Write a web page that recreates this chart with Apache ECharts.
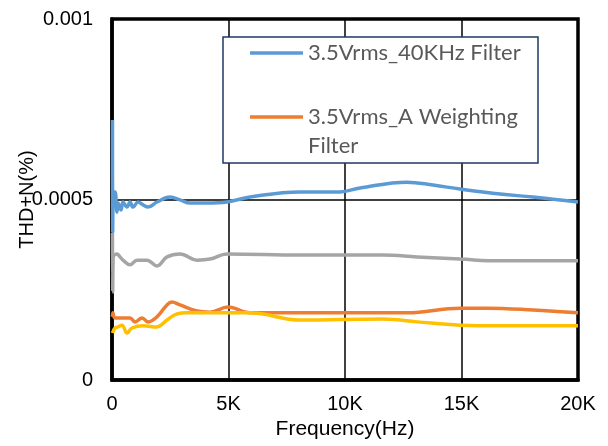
<!DOCTYPE html>
<html>
<head>
<meta charset="utf-8">
<script src="https://cdn.jsdelivr.net/npm/echarts@6/dist/echarts.min.js"></script>
<style>
html,body{margin:0;padding:0;background:#fff;}
#chart{width:608px;height:446px;}
</style>
</head>
<body>
<div id="chart"></div>
<script>
// ---- data ----
const xTickLabels = ['0', '5K', '10K', '15K', '20K'];
const yTickLabels = ['0', '0.0005', '0.001'];

const blueName = '3.5Vrms_40KHz Filter';
const blueFreq = [20, 30, 60, 130, 215, 258, 386, 472, 644, 773, 901, 1116, 1330, 1545, 1931, 2489, 2918, 3348, 4077, 4936, 5923, 8069, 9785, 10644, 12661, 13777, 14936, 16652, 18069, 20000];
const blueVals = [0.00072, 0.00041, 0.00052, 0.000521, 0.000465, 0.00049, 0.000471, 0.000493, 0.000479, 0.000493, 0.000479, 0.000493, 0.000485, 0.000479, 0.000493, 0.000507, 0.000499, 0.00049, 0.00049, 0.000493, 0.000507, 0.000521, 0.000521, 0.000532, 0.000548, 0.00054, 0.000529, 0.000515, 0.000507, 0.000493];

const orangeName = '3.5Vrms_A Weighting Filter';
const orangeFreq = [20, 40, 130, 773, 987, 1288, 1545, 1931, 2361, 2575, 2918, 3648, 4206, 4979, 5923, 9485, 12661, 14936, 16094, 18069, 20000];
const orangeVals = [0.000175, 0.000186, 0.000172, 0.000172, 0.000161, 0.000172, 0.000161, 0.000175, 0.000208, 0.000216, 0.000208, 0.000191, 0.000188, 0.000202, 0.000186, 0.000186, 0.000186, 0.000199, 0.000199, 0.000194, 0.000186];

const grayName = '3.5Vrms_Series3';
const grayFreq = [20, 30, 50, 215, 343, 472, 773, 1073, 1502, 1931, 2361, 2918, 3648, 4206, 4936, 8069, 11631, 13090, 14936, 16652, 20000];
const grayVals = [0.000407, 0.000244, 0.00034, 0.000349, 0.000341, 0.000332, 0.000319, 0.000332, 0.000332, 0.000316, 0.000341, 0.000349, 0.000332, 0.000335, 0.000349, 0.000346, 0.000346, 0.000341, 0.000335, 0.00033, 0.00033];

const yellowName = '3.5Vrms_Series4';
const yellowFreq = [20, 130, 258, 429, 644, 858, 1330, 1931, 2361, 2790, 3219, 5923, 8069, 11631, 13090, 14936, 16652, 20000];
const yellowVals = [0.00013, 0.000144, 0.000147, 0.000152, 0.00013, 0.000144, 0.00015, 0.000147, 0.000166, 0.000183, 0.000186, 0.000186, 0.000166, 0.000169, 0.000161, 0.000152, 0.00015, 0.00015];

function zip(fs, vs) { return fs.map((f, i) => [f, vs[i]]); }

const chart = echarts.init(document.getElementById('chart'), null, {renderer: 'canvas'});
const axisFont = 'Liberation Sans, Arial, sans-serif';
const legendFont = 'Lato, Carlito, Calibri, sans-serif';

function mkSeries(name, fs, vs, color) {
  return {
    name: name, type: 'line', data: zip(fs, vs),
    showSymbol: false, smooth: 0.4,
    lineStyle: {width: 3.5, color: color}, itemStyle: {color: color},
    z: 2
  };
}

chart.setOption({
  animation: false,
  grid: {left: 112, right: 30, top: 19, bottom: 66, show: true, borderColor: '#000', borderWidth: 3.5,
         containLabel: false, outerBoundsMode: 'none'},
  xAxis: {
    type: 'value', min: 0, max: 20000, interval: 5000,
    name: 'Frequency(Hz)', nameLocation: 'middle', nameGap: 39,
    nameTextStyle: {fontFamily: axisFont, fontSize: 21, color: '#000'},
    axisLine: {show: true, lineStyle: {color: '#000', width: 3.5}},
    axisTick: {show: false},
    axisLabel: {margin: 14, fontFamily: axisFont, fontSize: 20, color: '#000',
      formatter: v => xTickLabels[Math.round(v / 5000)]},
    splitLine: {show: true, lineStyle: {color: '#000', width: 1.5}}
  },
  yAxis: {
    type: 'value', min: 0, max: 0.001, interval: 0.0005,
    name: 'THD+N(%)', nameLocation: 'middle', nameGap: 75, nameMoveOverlap: false,
    nameTextStyle: {fontFamily: axisFont, fontSize: 20, color: '#000'},
    axisLine: {show: true, lineStyle: {color: '#000', width: 3.5}},
    axisTick: {show: false},
    axisLabel: {margin: 19, fontFamily: axisFont, fontSize: 20, color: '#000',
      formatter: v => yTickLabels[Math.round(v / 0.0005)]},
    splitLine: {show: true, lineStyle: {color: '#000', width: 1.5}}
  },
  graphic: [{
    type: 'rect', z: 3,
    shape: {x: 223, y: 37, width: 315, height: 126},
    style: {fill: '#fff', stroke: '#1f3864', lineWidth: 1.5}
  }],
  legend: [{
    data: [blueName], orient: 'vertical', left: 250, top: 38.5, padding: 0,
    selectedMode: false, icon: 'rect', itemWidth: 53, itemHeight: 3.5, z: 4,
    textStyle: {fontFamily: legendFont, fontSize: 22, color: '#595959', lineHeight: 29}
  }, {
    data: [orangeName], orient: 'vertical', left: 250, top: 73.5, padding: 0,
    selectedMode: false, icon: 'rect', itemWidth: 53, itemHeight: 3.5, z: 4,
    formatter: n => ' \n' + n.replace(' Filter', '\nFilter'),
    textStyle: {fontFamily: legendFont, fontSize: 22, color: '#595959', lineHeight: 29}
  }],
  series: [
    mkSeries(blueName, blueFreq, blueVals, '#5B9BD5'),
    mkSeries(orangeName, orangeFreq, orangeVals, '#ED7D31'),
    mkSeries(grayName, grayFreq, grayVals, '#A5A5A5'),
    mkSeries(yellowName, yellowFreq, yellowVals, '#FFC000')
  ]
});
</script>
</body>
</html>
